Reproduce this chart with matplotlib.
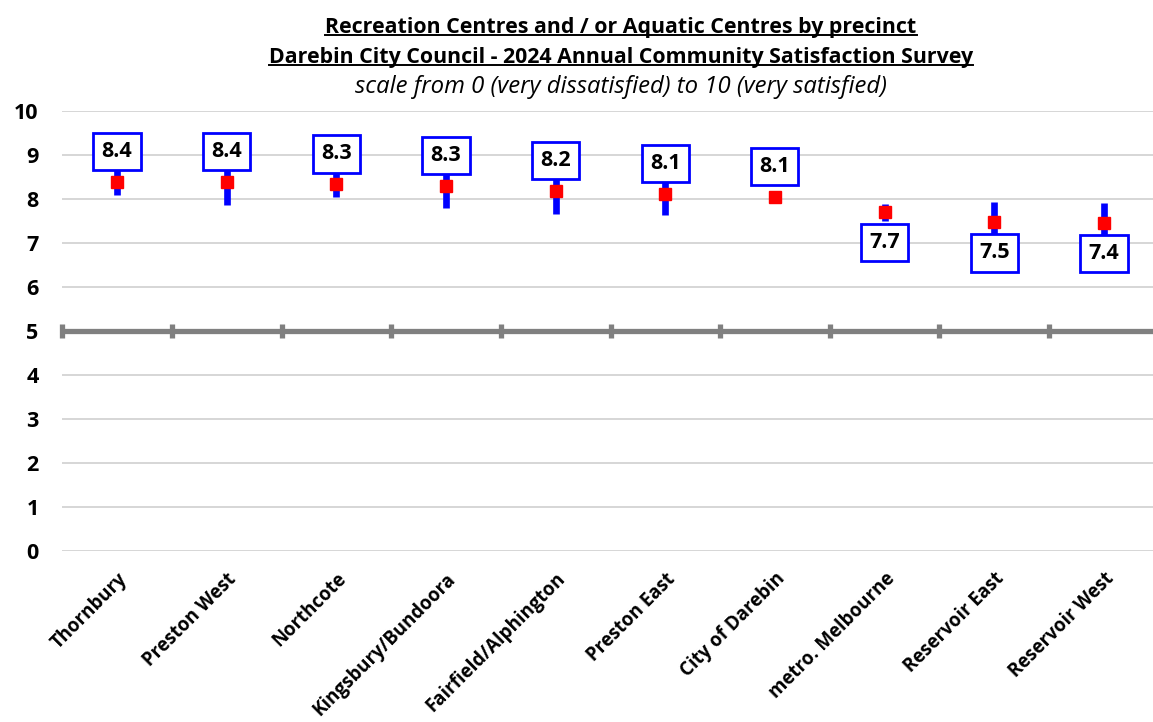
import matplotlib
matplotlib.use('Agg')
import matplotlib.pyplot as plt
from matplotlib.lines import Line2D
import numpy as np

plt.rcParams['font.family'] = ['Open Sans', 'DejaVu Sans']

precincts = ['Thornbury', 'Preston West', 'Northcote', 'Kingsbury/Bundoora',
             'Fairfield/Alphington', 'Preston East', 'City of Darebin',
             'metro. Melbourne', 'Reservoir East', 'Reservoir West']
means = [8.39, 8.38, 8.33, 8.29, 8.18, 8.11, 8.05, 7.70, 7.47, 7.45]
labels = ['8.4', '8.4', '8.3', '8.3', '8.2', '8.1', '8.1', '7.7', '7.5', '7.4']
lower = [8.08, 7.86, 8.05, 7.79, 7.65, 7.63, 7.93, 7.51, 7.00, 6.98]
upper = [8.70, 8.90, 8.61, 8.79, 8.71, 8.59, 8.17, 7.89, 7.94, 7.92]
label_above = [True, True, True, True, True, True, True, False, False, False]

fig = plt.figure(figsize=(11.53, 7.22), dpi=100)
ax = fig.add_axes([62.2 / 1153, 1 - 551 / 722, 1096.6 / 1153, 440 / 722])

x = np.arange(len(precincts))
ax.set_xlim(-0.5, len(precincts) - 0.5)
ax.set_ylim(0, 10)

# grid
for v in range(0, 11):
    if v != 5:
        ax.axhline(v, color='#d0d0d0', lw=1.2, zorder=0)

# the "5" axis line with category boundary ticks
ax.axhline(5, color='#808080', lw=3.8, zorder=1)
bounds = np.arange(len(precincts) + 1) - 0.5
ax.plot(bounds, [5] * len(bounds), ls='none', marker='|', ms=10,
        mew=3.8, color='#808080', zorder=1, clip_on=False)

# error bars and means
ax.vlines(x, lower, upper, color='#0000ff', lw=4.8, zorder=2)
ax.plot(x, means, ls='none', marker='s', ms=8, color='#ff0000', zorder=3)

for xi, m, lab, above in zip(x, means, labels, label_above):
    off = 22 if above else -22
    ax.annotate(lab, (xi, m), xytext=(0, off), textcoords='offset points',
                ha='center', va='center', fontsize=15.5, fontweight='bold',
                bbox=dict(boxstyle='square,pad=0.38', fc='white',
                          ec='#0000ff', lw=2), zorder=4)

for s in ax.spines.values():
    s.set_visible(False)
ax.set_yticks(range(0, 11))
ax.tick_params(axis='y', length=0, labelsize=15.5, pad=17)
for t in ax.get_yticklabels():
    t.set_fontweight('bold')
ax.set_xticks(x)
ax.set_xticklabels(precincts, rotation=45, ha='right', va='top', rotation_mode='anchor',
                   fontsize=13.4, fontweight='bold')
ax.tick_params(axis='x', length=0, pad=13)

cx = 621 / 1153
t1 = fig.text(cx, 1 - 27 / 722, 'Recreation Centres and / or Aquatic Centres by precinct',
              ha='center', va='center', fontsize=15.4, fontweight='bold')
t2 = fig.text(cx, 1 - 57 / 722, 'Darebin City Council - 2024 Annual Community Satisfaction Survey',
              ha='center', va='center', fontsize=15.4, fontweight='bold')
fig.text(cx, 1 - 87 / 722, 'scale from 0 (very dissatisfied) to 10 (very satisfied)',
         ha='center', va='center', fontsize=17.2, style='italic')

# underline the first two title lines
fig.canvas.draw()
r = fig.canvas.get_renderer()
for t in (t1, t2):
    bb = t.get_window_extent(r)
    y0 = bb.y0 + 3
    fig.add_artist(Line2D([bb.x0 / 1153, bb.x1 / 1153], [y0 / 722, y0 / 722],
                          transform=fig.transFigure, color='black', lw=1.4))

fig.savefig('out.png', dpi=100)
